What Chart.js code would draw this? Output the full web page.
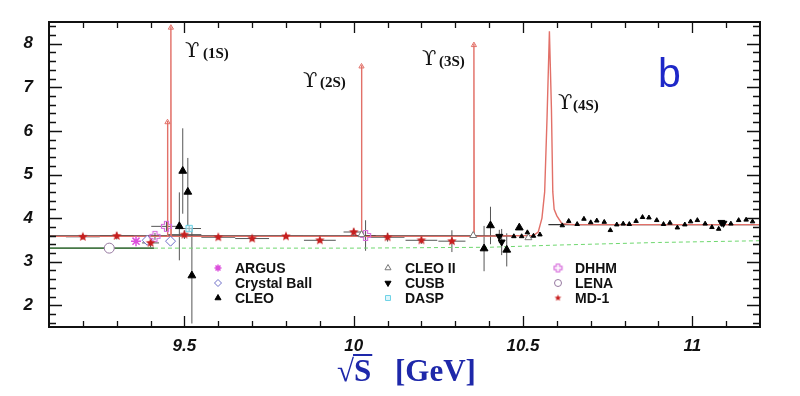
<!DOCTYPE html>
<html>
<head>
<meta charset="utf-8">
<script src="https://cdn.jsdelivr.net/npm/chart.js@4.4.1/dist/chart.umd.min.js"></script>
<style>
  body { margin: 0; background: #fff; }
  #wrap { width: 800px; height: 396px; }
</style>
</head>
<body>
<div id="wrap"><canvas id="chart"></canvas></div>
<script>
// --- data (sqrt(s) in GeV, R value) ---
const md1X    = [9.20, 9.30, 9.40, 9.50, 9.60, 9.70, 9.80, 9.90, 10.00, 10.10, 10.20, 10.29];
const md1Y    = [3.57, 3.59, 3.43, 3.62, 3.56, 3.53, 3.58, 3.49, 3.68, 3.56, 3.49, 3.47];
const md1XErr = [0.05, 0.05, 0.025, 0.05, 0.05, 0.05, 0.05, 0.047, 0.03, 0.05, 0.047, 0.04];
const md1YErr = [0.06, 0.08, 0.10, 0.10, 0.05, 0.05, 0.05, 0.05, 0.08, 0.10, 0.08, 0.25];

const cleoX    = [9.485, 9.495, 9.510, 9.522, 10.385, 10.404, 10.452, 10.489];
const cleoY    = [3.81, 5.08, 4.60, 2.68, 3.30, 3.83, 3.27, 3.78];
const cleoYErr = [0.78, 0.98, 0.78, 1.10, 0.52, 0.43, 0.38, 0];

const cleoScanX = [10.473, 10.496, 10.513, 10.531, 10.550, 10.616, 10.635, 10.660, 10.680, 10.700,
                   10.718, 10.740, 10.758, 10.777, 10.796, 10.814, 10.834, 10.853, 10.872, 10.895,
                   10.915, 10.934, 10.956, 10.978, 10.995, 11.015, 11.038, 11.058, 11.078, 11.114,
                   11.137, 11.159, 11.178];
const cleoScanY = [3.58, 3.58, 3.67, 3.59, 3.62, 3.83, 3.93, 3.86, 3.98, 3.90,
                   3.94, 3.91, 3.72, 3.85, 3.87, 3.86, 3.93, 4.02, 4.01, 3.95,
                   3.86, 3.89, 3.78, 3.85, 3.92, 3.95, 3.87, 3.79, 3.75, 3.87,
                   3.95, 3.96, 3.92];

const cusbX    = [10.430, 10.437, 11.086, 11.092];
const cusbY    = [3.58, 3.45, 3.90, 3.88];
const cusbYErr = [0.15, 0.30, 0, 0];

const cleo2X = [10.023, 10.353, 10.516];
const cleo2Y = [3.62, 3.60, 3.55];

const daspX = [9.514], daspY = [3.76], daspXErr = [0.035], daspYErr = [0.06];

const dhhmX    = [9.413, 9.447, 10.035];
const dhhmY    = [3.58, 3.81, 3.60];
const dhhmXErr = [0.02, 0.045, 0.03];
const dhhmYErr = [0.08, 0.12, 0.35];

const cbX = [9.390, 9.459], cbY = [3.49, 3.47];
const argusX = [9.357], argusY = [3.47];
const lenaX = [9.278], lenaY = [3.31];

// theory curve with the four Upsilon peaks
const theoryX = [9.10, 9.449, 9.450, 9.451, 9.459, 9.460, 9.461, 10.022, 10.023, 10.024,
                 10.354, 10.355, 10.356, 10.530, 10.545, 10.556, 10.564, 10.571, 10.578,
                 10.584, 10.588, 10.592, 10.600, 10.615, 10.650, 11.20];
const theoryY = [3.58, 3.58, 6.23, 3.58, 3.58, 8.40, 3.58, 3.58, 7.51, 3.58,
                 3.58, 8.00, 3.58, 3.60, 3.68, 4.00, 4.60, 6.30, 8.29,
                 6.50, 4.60, 4.20, 4.05, 3.87, 3.85, 3.85];
const arrowX = [9.450, 9.460, 10.023, 10.355];
const arrowY = [6.20, 8.37, 7.48, 7.97];

const fitX = [9.10, 10.47, 10.50, 10.575, 11.20];
const fitY = [3.59, 3.59, null, 3.85, 3.85];
const greenX = [9.10, 9.41], greenY = [3.31, 3.31];
const dashX = [9.41, 10.0, 10.4, 10.6, 10.9, 11.2];
const dashY = [3.31, 3.31, 3.33, 3.38, 3.44, 3.48];

const xTicks = [9.5, 10, 10.5, 11];
const yTicks = [2, 3, 4, 5, 6, 7, 8];

const legendNames = [['ARGUS', 'Crystal Ball', 'CLEO'], ['CLEO II', 'CUSB', 'DASP'], ['DHHM', 'LENA', 'MD-1']];
const peakLabels = ['(1S)', '(2S)', '(3S)', '(4S)'];

// --- helpers ---
const pts = (xs, ys) => xs.map((x, i) => ({ x: x, y: ys[i] }));

function starImage(r, color) {
  const c = document.createElement('canvas');
  c.width = c.height = 2 * r + 2;
  const g = c.getContext('2d');
  g.fillStyle = color;
  g.beginPath();
  for (let i = 0; i < 10; i++) {
    const a = -Math.PI / 2 + i * Math.PI / 5, rr = i % 2 ? r * 0.45 : r;
    g.lineTo(r + 1 + rr * Math.cos(a), r + 1 + rr * Math.sin(a));
  }
  g.closePath();
  g.fill();
  return c;
}

function plusImage(r, color) {
  const c = document.createElement('canvas');
  c.width = c.height = 2 * r + 3;
  const g = c.getContext('2d');
  const o = r + 1.5, w = r * 0.4;
  g.strokeStyle = color;
  g.lineWidth = 1.2;
  g.beginPath();
  [[-w, -r], [w, -r], [w, -w], [r, -w], [r, w], [w, w], [w, r], [-w, r], [-w, w], [-r, w], [-r, -w], [-w, -w]]
    .forEach(p => g.lineTo(o + p[0], o + p[1]));
  g.closePath();
  g.stroke();
  return c;
}

const RED = 'rgb(226,112,104)';
const tickFont = { family: '"Liberation Sans", Arial, sans-serif', size: 17, weight: 'bold', style: 'italic' };

const markers = [
  { label: 'MD-1', data: pts(md1X, md1Y), xErr: md1XErr, yErr: md1YErr, pointStyle: starImage(5, 'rgb(200,30,30)'), legendStyle: starImage(3.5, 'rgb(200,30,30)') },
  { label: 'CLEO', data: pts(cleoX, cleoY), yErr: cleoYErr, pointStyle: 'triangle', pointRadius: 4.5, backgroundColor: '#000', borderColor: '#000', borderWidth: 1 },
  { label: 'CLEO scan', data: pts(cleoScanX, cleoScanY), pointStyle: 'triangle', pointRadius: 2.6, backgroundColor: '#000', borderColor: '#000', borderWidth: 1 },
  { label: 'CUSB', data: pts(cusbX, cusbY), yErr: cusbYErr, pointStyle: 'triangle', rotation: 180, pointRadius: 4, backgroundColor: '#000', borderColor: '#000', borderWidth: 1 },
  { label: 'CLEO II', data: pts(cleo2X, cleo2Y), pointStyle: 'triangle', pointRadius: 4, backgroundColor: '#fff', borderColor: '#777', borderWidth: 1 },
  { label: 'DASP', data: pts(daspX, daspY), xErr: daspXErr, yErr: daspYErr, pointStyle: 'rect', pointRadius: 4.5, backgroundColor: 'rgba(200,240,250,0.6)', borderColor: 'rgb(110,210,230)', borderWidth: 1 },
  { label: 'DHHM', data: pts(dhhmX, dhhmY), xErr: dhhmXErr, yErr: dhhmYErr, pointStyle: plusImage(5, 'rgb(215,110,220)'), legendStyle: plusImage(4, 'rgb(215,110,220)') },
  { label: 'Crystal Ball', data: pts(cbX, cbY), pointStyle: 'rectRot', pointRadius: 5, backgroundColor: '#fff', borderColor: 'rgb(110,110,200)', borderWidth: 1 },
  { label: 'ARGUS', data: pts(argusX, argusY), pointStyle: 'star', pointRadius: 5, backgroundColor: 'rgb(220,80,220)', borderColor: 'rgb(220,80,220)', borderWidth: 1.5 },
  { label: 'LENA', data: pts(lenaX, lenaY), pointStyle: 'circle', pointRadius: 5, backgroundColor: '#fff', borderColor: 'rgb(150,120,160)', borderWidth: 1 }
].map(d => Object.assign({ showLine: false, pointHoverRadius: 0 }, d));

const lines = [
  { label: 'arrows', data: pts(arrowX, arrowY), showLine: false, pointStyle: 'triangle', pointRadius: 3, backgroundColor: 'rgba(0,0,0,0)', borderColor: RED, borderWidth: 1 },
  { label: 'theory', data: pts(theoryX, theoryY), showLine: true, pointRadius: 0, borderColor: RED, borderWidth: 1.4 },
  { label: 'fit', data: pts(fitX, fitY), showLine: true, spanGaps: false, pointRadius: 0, borderColor: '#333', borderWidth: 1.3 },
  { label: 'green', data: pts(greenX, greenY), showLine: true, pointRadius: 0, borderColor: 'rgb(70,120,70)', borderWidth: 1.6 },
  { label: 'dash', data: pts(dashX, dashY), showLine: true, pointRadius: 0, borderColor: 'rgb(110,215,110)', borderWidth: 1, borderDash: [4, 3] }
];

// frame with inward ticks, error bars, labels, legend and axis title
const decor = {
  id: 'decor',
  beforeDatasetsDraw(chart) {
    const ctx = chart.ctx, xs = chart.scales.x, ys = chart.scales.y;
    ctx.save();
    ctx.strokeStyle = '#555';
    ctx.lineWidth = 1;
    chart.data.datasets.forEach(ds => {
      if (!ds.xErr && !ds.yErr) return;
      ds.data.forEach((p, i) => {
        const px = xs.getPixelForValue(p.x), py = ys.getPixelForValue(p.y);
        ctx.beginPath();
        if (ds.xErr && ds.xErr[i]) {
          ctx.moveTo(xs.getPixelForValue(p.x - ds.xErr[i]), py);
          ctx.lineTo(xs.getPixelForValue(p.x + ds.xErr[i]), py);
        }
        if (ds.yErr && ds.yErr[i]) {
          ctx.moveTo(px, ys.getPixelForValue(p.y - ds.yErr[i]));
          ctx.lineTo(px, ys.getPixelForValue(p.y + ds.yErr[i]));
        }
        ctx.stroke();
      });
    });
    ctx.restore();
  },
  afterDraw(chart) {
    const ctx = chart.ctx, a = chart.chartArea, xs = chart.scales.x, ys = chart.scales.y;
    ctx.save();
    // frame
    ctx.strokeStyle = '#111';
    ctx.lineWidth = 2;
    ctx.strokeRect(a.left, a.top, a.right - a.left, a.bottom - a.top);
    // ticks
    ctx.lineWidth = 1.3;
    ctx.beginPath();
    for (let k = 92; k <= 111; k++) {
      const x = Math.round(xs.getPixelForValue(k / 10)) + 0.5, len = k % 5 === 0 ? 11 : 6;
      ctx.moveTo(x, a.bottom); ctx.lineTo(x, a.bottom - len);
      ctx.moveTo(x, a.top); ctx.lineTo(x, a.top + len);
    }
    for (let k = 16; k <= 84; k += 2) {
      const y = Math.round(ys.getPixelForValue(k / 10)) + 0.5, len = k % 10 === 0 ? 13 : 7;
      ctx.moveTo(a.left, y); ctx.lineTo(a.left + len, y);
      ctx.moveTo(a.right, y); ctx.lineTo(a.right - len, y);
    }
    ctx.stroke();

    // peak labels
    const peakPos = [[185, 57, 203, 58], [303, 87, 320, 87], [422, 65, 439, 66], [558, 109, 573, 110]];
    ctx.fillStyle = '#111';
    ctx.textBaseline = 'alphabetic';
    ctx.textAlign = 'left';
    peakPos.forEach((p, i) => {
      ctx.font = '21px "DejaVu Serif", "Liberation Serif", serif';
      ctx.fillText('\u03D2', p[0], p[1]);
      ctx.font = 'bold 15px "Liberation Serif", "Times New Roman", serif';
      ctx.fillText(peakLabels[i], p[2], p[3]);
    });

    // panel letter
    ctx.fillStyle = 'rgb(30,40,200)';
    ctx.font = '41px "Liberation Sans", Arial, sans-serif';
    ctx.fillText('b', 658, 87);

    // legend
    const colX = [218, 388, 558], rowY = [268, 283, 298];
    const byLabel = {};
    chart.data.datasets.forEach(ds => { byLabel[ds.label] = ds; });
    ctx.font = 'bold 14px "Liberation Sans", Arial, sans-serif';
    ctx.textBaseline = 'middle';
    legendNames.forEach((col, c) => col.forEach((name, r) => {
      const ds = byLabel[name];
      ctx.save();
      ctx.fillStyle = ds.backgroundColor || '#000';
      ctx.strokeStyle = ds.borderColor || '#000';
      ctx.lineWidth = ds.borderWidth || 1;
      Chart.helpers.drawPoint(ctx, {
        pointStyle: ds.legendStyle || ds.pointStyle, radius: 3.5,
        rotation: ds.rotation || 0, borderWidth: ds.borderWidth || 0
      }, colX[c], rowY[r]);
      ctx.restore();
      ctx.fillStyle = '#111';
      ctx.fillText(name, colX[c] + 17, rowY[r] + 1);
    }));

    // axis title: sqrt(s) [GeV]
    ctx.fillStyle = 'rgb(30,40,170)';
    ctx.textBaseline = 'alphabetic';
    ctx.font = 'bold 31px "Liberation Serif", "Times New Roman", serif';
    const rw = ctx.measureText('\u221A').width;
    ctx.fillText('\u221A', 337, 381);
    ctx.fillText('S', 337 + rw, 381);
    const sw = ctx.measureText('S').width;
    ctx.fillRect(337 + rw - 1, 354, sw + 2, 2);
    ctx.fillText('[GeV]', 395, 381);
    ctx.restore();
  }
};

const fmt = v => String(Math.round(v * 10) / 10);

new Chart(document.getElementById('chart'), {
  type: 'scatter',
  data: { datasets: markers.concat(lines) },
  options: {
    responsive: true,
    maintainAspectRatio: false,
    animation: false,
    events: [],
    layout: { padding: { top: 22, right: 40, left: 0, bottom: 0 } },
    plugins: { legend: { display: false }, tooltip: { enabled: false } },
    scales: {
      x: {
        type: 'linear', min: 9.1, max: 11.2,
        grid: { display: false }, border: { display: false },
        ticks: { autoSkip: false, maxRotation: 0, padding: 1, color: '#111', font: tickFont, callback: fmt },
        afterBuildTicks: s => { s.ticks = xTicks.map(v => ({ value: v })); },
        afterFit: s => { s.height = 69; }
      },
      y: {
        type: 'linear', min: 1.5, max: 8.5,
        grid: { display: false }, border: { display: false },
        ticks: { autoSkip: false, padding: 8, color: '#111', font: tickFont, callback: fmt },
        afterBuildTicks: s => { s.ticks = yTicks.map(v => ({ value: v })); },
        afterFit: s => { s.width = 49; }
      }
    }
  },
  plugins: [decor]
});
</script>
</body>
</html>
